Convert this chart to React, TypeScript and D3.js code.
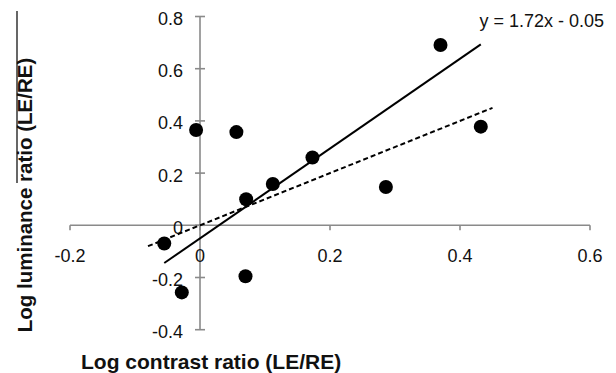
import React from "react";
import * as d3 from "d3";

const xTicks = [-0.2, 0, 0.2, 0.4, 0.6];
const yTicks = [-0.4, -0.2, 0, 0.2, 0.4, 0.6, 0.8];
const xTickLabels = ["-0.2", "0", "0.2", "0.4", "0.6"];
const yTickLabels = ["-0.4", "-0.2", "0", "0.2", "0.4", "0.6", "0.8"];

const pointX = [0.37, 0.432, -0.006, 0.056, 0.173, 0.112, 0.071, 0.286, -0.055, 0.07, -0.028];
const pointY = [0.691, 0.378, 0.365, 0.357, 0.26, 0.158, 0.1, 0.147, -0.07, -0.195, -0.257];

const trendSlope = 1.72;
const trendIntercept = -0.05;
const unityRange = [-0.08, 0.45];
const equationText = "y = 1.72x - 0.05";
const xTitle = "Log contrast ratio (LE/RE)";
const yTitle = "Log luminance ratio (LE/RE)";

export default function App() {
  const W = 616, H = 373;
  const x = d3.scaleLinear().domain([-0.2, 0.6]).range([70, 590]);
  const y = d3.scaleLinear().domain([-0.4, 0.8]).range([329.7, 16.5]);
  const font = "'Liberation Sans', Arial, Helvetica, sans-serif";
  const axisColor = "#8a8a8a";

  const line = d3.line<[number, number]>().x(d => x(d[0])).y(d => y(d[1]));
  const xMin = d3.min(pointX) as number;
  const xMax = d3.max(pointX) as number;
  const trend: [number, number][] = [
    [xMin, trendSlope * xMin + trendIntercept],
    [xMax, trendSlope * xMax + trendIntercept],
  ];
  const unity: [number, number][] = [
    [unityRange[0], unityRange[0]],
    [unityRange[1], unityRange[1]],
  ];

  return (
    <svg width={W} height={H} style={{ position: "absolute", left: 0, top: 0, background: "#fff" }} fontFamily={font}>
      <rect x={0} y={0} width={W} height={H} fill="#fff" />
      {/* axes */}
      <line x1={x(-0.2)} x2={x(0.6)} y1={y(0)} y2={y(0)} stroke={axisColor} strokeWidth={1.6} />
      <line x1={x(0)} x2={x(0)} y1={y(-0.4)} y2={y(0.8)} stroke={axisColor} strokeWidth={1.6} />
      {xTicks.map((t, i) => (
        <g key={"xt" + i}>
          <line x1={x(t)} x2={x(t)} y1={y(0)} y2={y(0) + 5} stroke={axisColor} strokeWidth={1.6} />
          <text x={x(t)} y={y(0) + 37} textAnchor="middle" fontSize={18} fill="#111">{xTickLabels[i]}</text>
        </g>
      ))}
      {yTicks.map((t, i) => (
        <g key={"yt" + i}>
          <line x1={x(0) - 5} x2={x(0) + 5} y1={y(t)} y2={y(t)} stroke={axisColor} strokeWidth={1.6} />
          <text x={183} y={y(t) + 8.5} textAnchor="end" fontSize={18} fill="#111">{yTickLabels[i]}</text>
        </g>
      ))}
      {/* unity dashed line */}
      <path d={line(unity) || ""} fill="none" stroke="#000" strokeWidth={2} strokeDasharray="5,3" />
      {/* trend line */}
      <path d={line(trend) || ""} fill="none" stroke="#000" strokeWidth={2} />
      {/* points */}
      {pointX.map((px, i) => (
        <circle key={"p" + i} cx={x(px)} cy={y(pointY[i])} r={7} fill="#000" />
      ))}
      <text x={604} y={26.5} textAnchor="end" fontSize={18} fill="#111">{equationText}</text>
      <text x={81} y={369} fontSize={21} fontWeight="bold" fill="#111">{xTitle}</text>
      <text transform={`translate(32,195) rotate(-90)`} textAnchor="middle" fontSize={20.5} fontWeight="bold" fill="#111">{yTitle}</text>
      <line x1={17} x2={17} y1={11} y2={183} stroke="#000" strokeWidth={1.2} />
    </svg>
  );
}
